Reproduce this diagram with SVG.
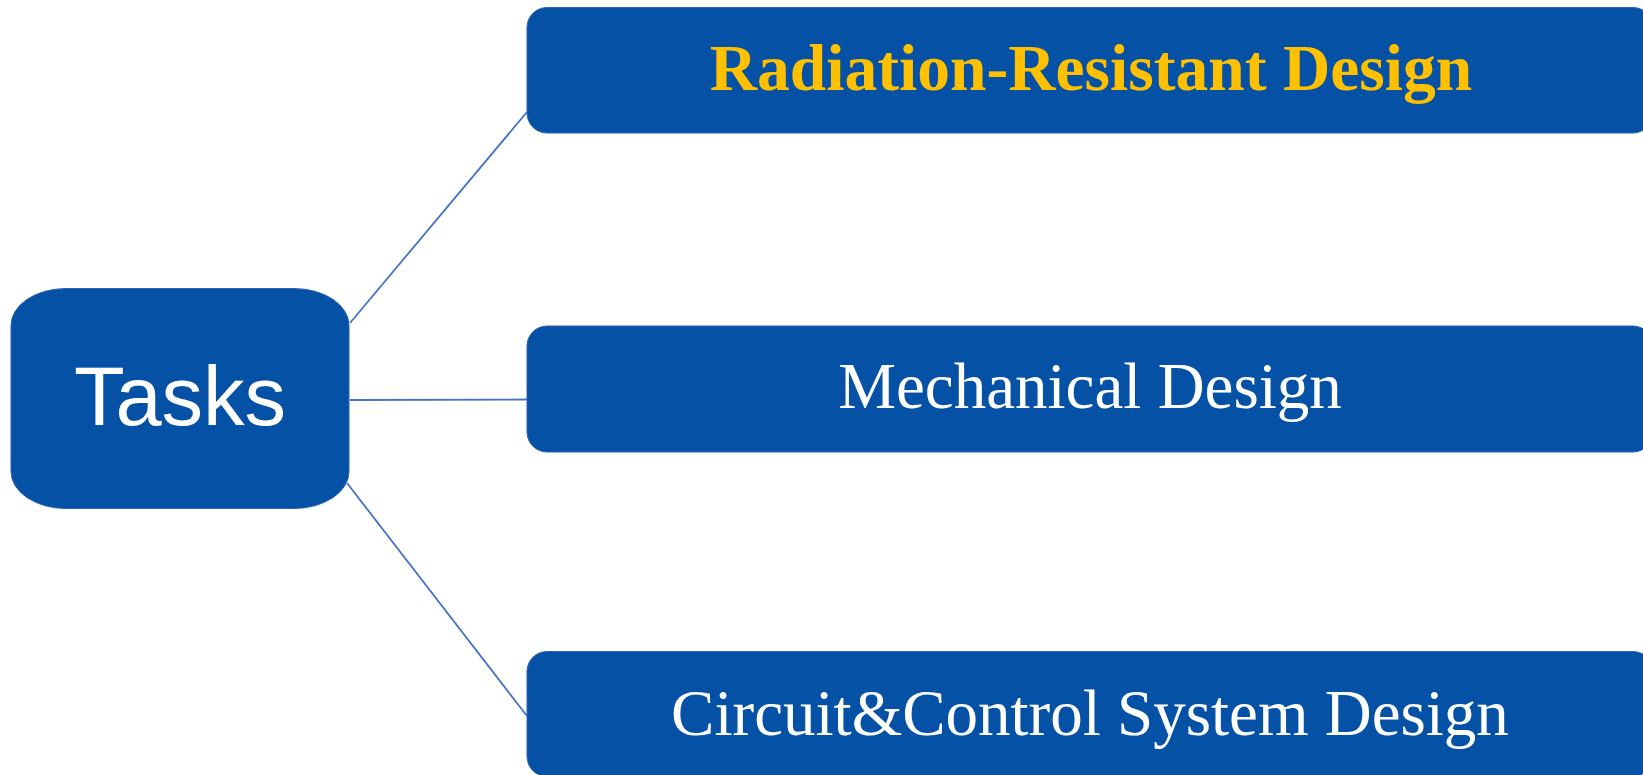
<svg xmlns="http://www.w3.org/2000/svg" width="1643" height="775" viewBox="0 0 1643 775">
<style>
.box{fill:#0451A5;stroke:#2E63B5;stroke-width:1}
.conn{stroke:#4472C4;stroke-width:1.8;fill:none}
.sub{font-family:"Liberation Serif","Times New Roman",serif;font-size:65px;fill:#FFFFFF;text-anchor:middle}
</style>
<rect width="1643" height="775" fill="#FFFFFF"/>
<g id="connectors">
<line class="conn" x1="350" y1="323" x2="527" y2="112"/>
<line class="conn" x1="350" y1="400" x2="527" y2="399.5"/>
<line class="conn" x1="347" y1="483" x2="527" y2="716"/>
</g>
<g id="tasks">
<rect class="box" x="11" y="288.5" width="338" height="220" rx="55" ry="37"/>
<text x="180" y="425" font-family="Liberation Sans, Arial, sans-serif" font-size="83" fill="#FFFFFF" text-anchor="middle">Tasks</text>
</g>
<g id="radiation">
<rect class="box" x="527" y="7.5" width="1126" height="125.5" rx="20" ry="20"/>
<text class="sub" x="1091" y="90" font-weight="bold" style="fill:#FFC000;font-size:65.5px">Radiation-Resistant Design</text>
</g>
<g id="mechanical">
<rect class="box" x="527" y="326" width="1126" height="126" rx="20" ry="20"/>
<text class="sub" x="1090" y="408">Mechanical Design</text>
</g>
<g id="circuit">
<rect class="box" x="527" y="651.5" width="1126" height="125" rx="20" ry="20"/>
<text class="sub" x="1090" y="735">Circuit&amp;Control System Design</text>
</g>
</svg>
